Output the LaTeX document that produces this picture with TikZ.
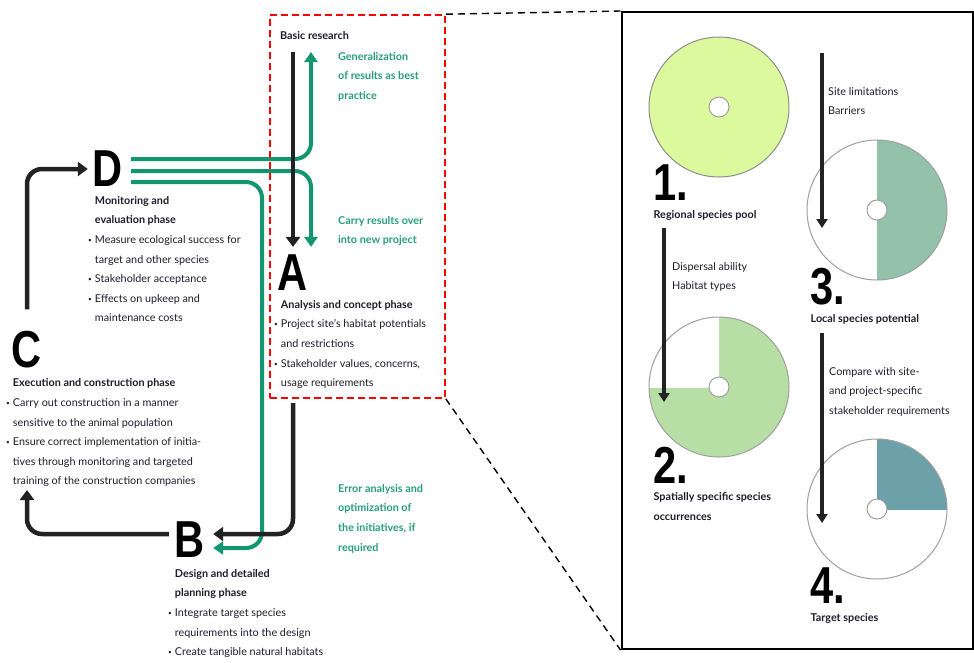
\documentclass[tikz,border=0pt]{standalone}
\usepackage{fontspec}
\setmainfont{Lato}
\newfontfamily\letterfont{Liberation Sans}
\usetikzlibrary{positioning, arrows.meta, calc}

\definecolor{arrowgreen}{RGB}{18,150,112}
\definecolor{textgreen}{RGB}{38,158,124}
\definecolor{bodytext}{RGB}{32,28,42}
\definecolor{darkarrow}{RGB}{34,34,34}
\definecolor{poolfill}{RGB}{221,249,157}
\definecolor{occfill}{RGB}{182,222,165}
\definecolor{localfill}{RGB}{148,193,170}
\definecolor{targetfill}{RGB}{108,161,170}

\newcommand{\itm}{\llap{\raisebox{.2ex}{\scalebox{.6}{\textbullet}}\hspace{3pt}}}

\begin{document}
\begin{tikzpicture}[
    x=1pt, y=-1pt,
    letter/.style={
        inner sep=0pt,
        font=\letterfont\bfseries\fontsize{52}{52}\selectfont
    },
    phase/.style={
        inner sep=0pt,
        align=left,
        text=bodytext,
        font=\fontsize{10.8}{19.6}\selectfont
    },
    note/.style={
        inner sep=0pt,
        align=left,
        anchor=north west,
        text=textgreen,
        font=\bfseries\fontsize{10.8}{19.6}\selectfont
    },
    darr/.style={
        -{Triangle[width=14pt,length=10pt]},
        line width=4.5pt,
        darkarrow,
        rounded corners=15pt
    },
    garr/.style={
        -{Triangle[width=13pt,length=10pt]},
        line width=4pt,
        arrowgreen,
        rounded corners=16pt
    },
    parr/.style={
        -{Triangle[width=11pt,length=9pt]},
        line width=3.5pt,
        darkarrow
    },
    ring/.style={
        draw=gray!75,
        line width=1pt
    },
    hole/.style={
        draw=gray!75,
        fill=white,
        line width=1pt
    }
]
    \useasboundingbox (0,0) rectangle (974,662);

    % Phase letters
    \node[letter] (D) at (108,169) {\scalebox{.8}[1]{D}};
    \node[letter] (A) at (293,273) {\scalebox{.8}[1]{A}};
    \node[letter] (B) at (190,540) {\scalebox{.8}[1]{B}};
    \node[letter] (C) at (27,350) {\scalebox{.8}[1]{C}};

    % Phase texts
    \node[phase, below right=9pt and 2pt of D.south west] (dtext)
        {\textbf{Monitoring and}\\ \textbf{evaluation phase}\\
         \itm Measure ecological success for\\ target and other species\\
         \itm Stakeholder acceptance\\
         \itm Effects on upkeep and\\ maintenance costs};
    \node[phase, below right=9pt and 3pt of A.south west] (atext)
        {\textbf{Analysis and concept phase}\\
         \itm Project site's habitat potentials\\ and restrictions\\
         \itm Stakeholder values, concerns,\\ usage requirements};
    \node[phase, below right=11pt and 0pt of B.south west] (btext)
        {\textbf{Design and detailed}\\ \textbf{planning phase}\\
         \itm Integrate target species\\ requirements into the design\\
         \itm Create tangible natural habitats};
    \node[phase, below right=10pt and 1pt of C.south west] (ctext)
        {\textbf{Execution and construction phase}\\
         \itm Carry out construction in a manner\\ sensitive to the animal population\\
         \itm Ensure correct implementation of initia-\\ tives through monitoring and targeted\\
         training of the construction companies};
    \node[phase, anchor=north west] (basic) at (280,31) {\textbf{Basic research}};

    % Green notes
    \node[note] (general) at (338,52) {Generalization\\ of results as best\\ practice};
    \node[note] (carry) at (338,216) {Carry results over\\ into new project};
    \node[note] (error) at (338,484) {Error analysis and\\ optimization of\\ the initiatives, if\\ required};

    % Free ends
    \coordinate (gUp) at (311,52);
    \coordinate (gMid) at (262,360);
    \coordinate (topA) at (293,52);
    \coordinate (aOut) at (293,403);
    \coordinate (cEnd) at (27,490);

    % Green feedback lines
    \draw[garr] ([shift={(8pt,10pt)}]D.east) -| (gUp);
    \draw[garr] ([shift={(8pt,-2pt)}]D.east) -| ([shift={(18pt,8pt)}]A.north);
    \draw[garr] ([shift={(8pt,-13pt)}]D.east) -| (gMid) |- ([shift={(8pt,-8pt)}]B.east);

    % Cycle
    \draw[darr] (topA) -- ([yshift=8pt]A.north);
    \draw[darr] (aOut) |- ([shift={(8pt,6pt)}]B.east);
    \draw[darr] ([shift={(-6pt,6pt)}]B.west) -| (cEnd);
    \draw[darr] ([yshift=22pt]C.north) |- ([xshift=-5pt]D.west);

    % Zoom frame
    \node[draw=red, dashed, dash pattern=on 7pt off 4pt, line width=1.6pt,
          minimum width=175pt, minimum height=383pt, inner sep=0pt] (focus) at (357.5,206.5) {};
    \node[draw=black, line width=2pt, minimum width=351pt, minimum height=637pt,
          inner sep=0pt] (panel) at (797,330.5) {};
    \draw[black, line width=1.4pt, dash pattern=on 7pt off 5pt] (focus.north east) -- (panel.north west);
    \draw[black, line width=1.4pt, dash pattern=on 7pt off 5pt] (focus.south east) -- (panel.south west);

    % Species circles
    \fill[poolfill] (719,107) circle (70);
    \draw[ring, draw=gray!90] (719,107) circle (70);
    \draw[hole] (719,107) circle (10);

    \fill[occfill] (719,387) circle (70);
    \begin{scope}
        \clip (649,317) rectangle (719,387);
        \fill[white] (719,387) circle (70);
    \end{scope}
    \draw[ring] (719,387) circle (70);
    \draw[hole] (719,387) circle (10);

    \begin{scope}
        \clip (877,139) rectangle (949,281);
        \fill[localfill] (877,210) circle (70);
    \end{scope}
    \draw[ring] (877,210) circle (70);
    \draw[hole] (877,210) circle (10);

    \begin{scope}
        \clip (877,438) rectangle (948,509);
        \fill[targetfill] (877,509) circle (70);
    \end{scope}
    \draw[ring] (877,509) circle (70);
    \draw[hole] (877,509) circle (10);

    % Step numbers
    \node[letter] (n1) at (671,183) {\scalebox{.8}[1]{1.}};
    \node[letter] (n2) at (671,465) {\scalebox{.8}[1]{2.}};
    \node[letter] (n3) at (828,287) {\scalebox{.8}[1]{3.}};
    \node[letter] (n4) at (828,586) {\scalebox{.8}[1]{4.}};

    \node[phase, below right=9pt and 0pt of n1.south west] (pool) {\textbf{Regional species pool}};
    \node[phase, below right=9pt and 0pt of n2.south west] (occ) {\textbf{Spatially specific species}\\ \textbf{occurrences}};
    \node[phase, below right=9pt and 0pt of n3.south west] (local) {\textbf{Local species potential}};
    \node[phase, below right=9pt and 0pt of n4.south west] (target) {\textbf{Target species}};

    \node[phase, anchor=north west] (disp) at (672,262) {Dispersal ability\\ Habitat types};
    \node[phase, anchor=north west] (site) at (828,87) {Site limitations\\ Barriers};
    \node[phase, anchor=north west] (comp) at (829,367) {Compare with site-\\ and project-specific\\ stakeholder requirements};

    % Filter arrows
    \coordinate (f1s) at (664,228);
    \coordinate (f1e) at (664,402);
    \coordinate (f2s) at (822,53);
    \coordinate (f2e) at (822,228);
    \coordinate (f3s) at (822,333);
    \coordinate (f3e) at (822,523);
    \draw[parr] (f1s) -- (f1e);
    \draw[parr] (f2s) -- (f2e);
    \draw[parr] (f3s) -- (f3e);

\end{tikzpicture}
\end{document}
